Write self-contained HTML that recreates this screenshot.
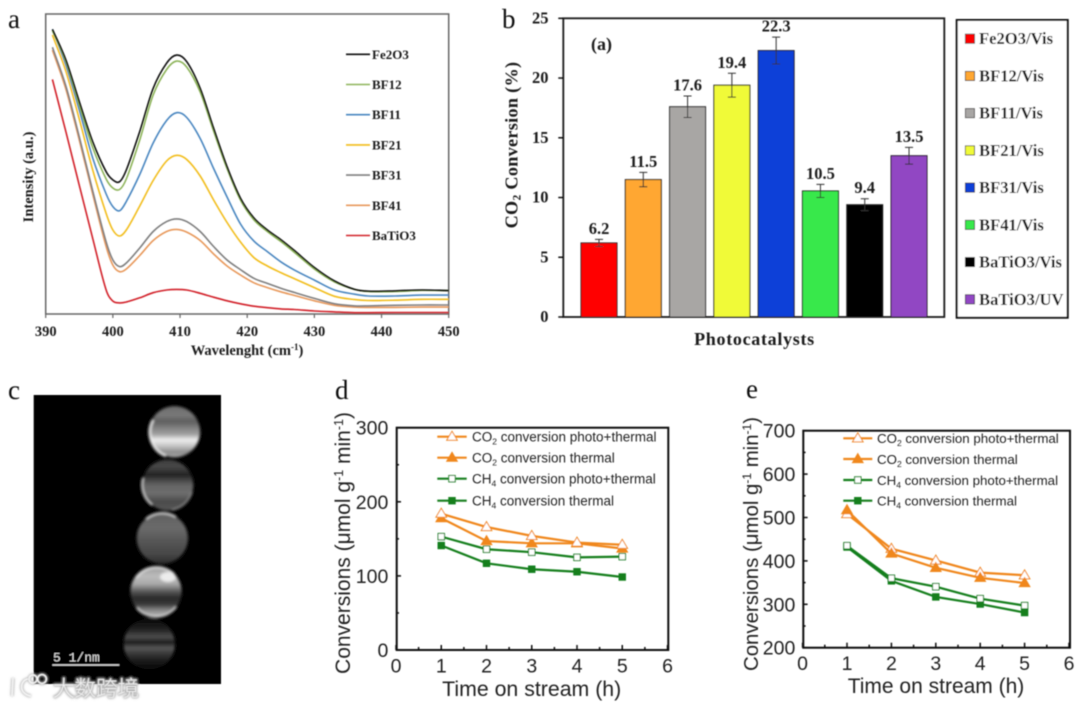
<!DOCTYPE html>
<html lang="en">
<head>
<meta charset="utf-8">
<title>Photocatalyst characterisation figure</title>
<style>
html,body{margin:0;padding:0;background:#fff;width:1080px;height:707px;overflow:hidden}
svg{display:block}
.serif{font-family:"Liberation Serif",serif}
.sans{font-family:"Liberation Sans",sans-serif;fill:#222}
.b{font-weight:bold;fill:#1c1c1c}
</style>
</head>
<body>
<svg id="fig" xmlns="http://www.w3.org/2000/svg" width="1080" height="707" viewBox="0 0 1080 707">
<defs>
<filter id="soft" x="-5%" y="-5%" width="110%" height="110%"><feGaussianBlur stdDeviation="0.5"/></filter>
<filter id="soft2" x="-20%" y="-20%" width="140%" height="140%"><feGaussianBlur stdDeviation="1.3"/></filter>
<filter id="halo" x="-20%" y="-40%" width="140%" height="180%"><feGaussianBlur stdDeviation="1"/></filter>
<linearGradient id="g1" x1="0" y1="0" x2="0" y2="1"><stop offset="0" stop-color="#6e6e6e"/><stop offset=".18" stop-color="#787878"/><stop offset=".3" stop-color="#5e5e5e"/><stop offset=".44" stop-color="#858585"/><stop offset=".55" stop-color="#a0a0a0"/><stop offset=".66" stop-color="#eeeeee"/><stop offset=".78" stop-color="#c4c4c4"/><stop offset=".9" stop-color="#8c8c8c"/><stop offset="1" stop-color="#a8a8a8"/></linearGradient>
<linearGradient id="g2" x1="0" y1="0" x2="0" y2="1"><stop offset="0" stop-color="#3c3c3c"/><stop offset=".14" stop-color="#484848"/><stop offset=".3" stop-color="#232323"/><stop offset=".5" stop-color="#646464"/><stop offset=".66" stop-color="#6e6e6e"/><stop offset=".82" stop-color="#4c4c4c"/><stop offset="1" stop-color="#555"/></linearGradient>
<linearGradient id="g3" x1="0" y1="0" x2="0" y2="1"><stop offset="0" stop-color="#606060"/><stop offset=".3" stop-color="#6a6a6a"/><stop offset=".55" stop-color="#565656"/><stop offset=".8" stop-color="#484848"/><stop offset="1" stop-color="#2c2c2c"/></linearGradient>
<linearGradient id="g4" x1="0" y1="0" x2="0" y2="1"><stop offset="0" stop-color="#9a9a9a"/><stop offset=".2" stop-color="#bcbcbc"/><stop offset=".35" stop-color="#a8a8a8"/><stop offset=".5" stop-color="#565656"/><stop offset=".62" stop-color="#2a2a2a"/><stop offset=".74" stop-color="#363636"/><stop offset=".87" stop-color="#8c8c8c"/><stop offset="1" stop-color="#bcbcbc"/></linearGradient>
<linearGradient id="g5" x1="0" y1="0" x2="0" y2="1"><stop offset="0" stop-color="#060606"/><stop offset=".22" stop-color="#222"/><stop offset=".36" stop-color="#4c4c4c"/><stop offset=".47" stop-color="#1e1e1e"/><stop offset=".58" stop-color="#585858"/><stop offset=".68" stop-color="#3a3a3a"/><stop offset=".82" stop-color="#1c1c1c"/><stop offset="1" stop-color="#060606"/></linearGradient>
</defs>

<g id="root" filter="url(#soft)">
<text class="serif" x="8" y="28" font-size="27" fill="#111">a</text>
<text class="serif" x="502" y="28" font-size="27" fill="#111">b</text>
<text class="serif" x="8" y="399" font-size="27" fill="#111">c</text>
<text class="serif" x="335" y="399" font-size="27" fill="#111">d</text>
<text class="serif" x="746" y="398" font-size="27" fill="#111">e</text>

<!-- panel a -->
<g id="panelA">
<rect x="45.7" y="14" width="403" height="300" fill="none" stroke="#666" stroke-width="1.5"/>
<text class="serif b" x="247" y="355" font-size="14.5" text-anchor="middle">Wavelenght (cm<tspan dy="-5" font-size="9">-1</tspan><tspan dy="5">)</tspan></text>
<text class="serif b" transform="translate(33,177) rotate(-90)" font-size="14.5" text-anchor="middle">Intensity (a.u.)</text>
</g>

<!-- panel b -->
<g id="panelB">
<rect x="563.3" y="18.3" width="381" height="298.7" fill="none" stroke="#1a1a1a" stroke-width="1.8"/>
<text class="serif b" x="601.5" y="50" font-size="18" text-anchor="middle">(a)</text>
<text class="serif b" x="754.5" y="345" font-size="18" letter-spacing=".7" text-anchor="middle">Photocatalysts</text>
<text class="serif b" transform="translate(517.5,145) rotate(-90)" font-size="18.2" letter-spacing=".3" text-anchor="middle">CO<tspan dy="3" font-size="11.5">2</tspan><tspan dy="-3"> Conversion (%)</tspan></text>
<rect x="956.7" y="20" width="111" height="297.7" fill="#fff" stroke="#111" stroke-width="2"/>
</g>

<!-- panel c -->
<g id="panelC">
<rect x="33.7" y="395" width="187.3" height="289" fill="#030303"/>
<g filter="url(#soft2)">
<circle cx="174.5" cy="431.7" r="25.5" fill="url(#g1)"/>
<path d="M153 420 A25.5 25.5 0 0 0 166 456" fill="none" stroke="#f4f4f4" stroke-width="2.5" opacity=".9"/>
<circle cx="167.7" cy="485" r="25.5" fill="url(#g2)"/>
<path d="M143 478 A25.5 25.5 0 0 0 152 505" fill="none" stroke="#e6e6e6" stroke-width="1.6"/>
<path d="M172 510 A25.5 25.5 0 0 0 192 492" fill="none" stroke="#a0a0a0" stroke-width="1.2"/>
<circle cx="162.3" cy="538.3" r="25.5" fill="url(#g3)"/>
<path d="M146 519 A25.5 25.5 0 0 1 176 517" fill="none" stroke="#e8e8e8" stroke-width="1.6"/>
<circle cx="156" cy="591.7" r="25.5" fill="url(#g4)"/>
<path d="M136 578 A25.5 25.5 0 0 1 174 574" fill="none" stroke="#f0f0f0" stroke-width="1.6"/>
<path d="M137 608 A25.5 25.5 0 0 0 176 607" fill="none" stroke="#dcdcdc" stroke-width="1.8"/>
<ellipse cx="168" cy="577" rx="8" ry="5" fill="#f4f4f4" opacity=".85"/>
<circle cx="149.3" cy="644" r="25.5" fill="url(#g5)"/>
</g>
<line x1="52.3" x2="119.3" y1="665" y2="665" stroke="#ddd" stroke-width="1.5"/>
<text x="53" y="661.5" font-family="'Liberation Mono',monospace" font-size="13" fill="#ddd">5 1/nm</text>
</g>

<!-- watermark -->
<g>
<g fill="none" stroke="#b5b5b5" stroke-width="3.4" filter="url(#halo)" opacity=".85">
<path d="M13 678 L12 696 M28 679 C20 680 18 694 31 696"/>
<circle cx="33" cy="679" r="4"/><circle cx="42" cy="679" r="4.4"/>
</g>
<g fill="none" stroke="#f6f6f6" stroke-width="1.4">
<path d="M13 678 L12 696 M28 679 C20 680 18 694 31 696"/>
<circle cx="33" cy="679" r="4"/><circle cx="42" cy="679" r="4.4"/>
</g>
<text x="53" y="696" font-family="'Noto Sans CJK SC',sans-serif" font-size="21.5" fill="#b0b0b0" stroke="#b0b0b0" stroke-width="1.6" filter="url(#halo)">大数跨境</text>
<text x="53" y="696" font-family="'Noto Sans CJK SC',sans-serif" font-size="21.5" font-weight="300" fill="#f0f0f0">大数跨境</text>
</g>

<!-- panel d -->
<g id="panelD">
<rect x="396.7" y="427.7" width="271.6" height="222.3" fill="none" stroke="#111" stroke-width="2"/>
<text class="sans" x="531.7" y="696" font-size="21.3" text-anchor="middle">Time on stream (h)</text>
<text class="sans" transform="translate(350,543) rotate(-90)" font-size="21" text-anchor="middle">Conversions (μmol g<tspan dy="-7" font-size="12.5">-1</tspan><tspan dy="7"> min</tspan><tspan dy="-7" font-size="12.5">-1</tspan><tspan dy="7">)</tspan></text>
<text class="sans" x="472" y="441.5" font-size="13.5">CO<tspan dy="3" font-size="8.5">2</tspan><tspan dy="-3"> conversion photo+thermal</tspan></text>
<text class="sans" x="472" y="462.5" font-size="13.5">CO<tspan dy="3" font-size="8.5">2</tspan><tspan dy="-3"> conversion thermal</tspan></text>
<text class="sans" x="472" y="483.5" font-size="13.5">CH<tspan dy="3" font-size="8.5">4</tspan><tspan dy="-3"> conversion photo+thermal</tspan></text>
<text class="sans" x="472" y="505.5" font-size="13.5">CH<tspan dy="3" font-size="8.5">4</tspan><tspan dy="-3"> conversion thermal</tspan></text>
</g>

<!-- panel e -->
<g id="panelE">
<rect x="803.3" y="430.7" width="266.7" height="217" fill="none" stroke="#111" stroke-width="2"/>
<text class="sans" x="936" y="693" font-size="21" text-anchor="middle">Time on stream (h)</text>
<text class="sans" transform="translate(758,544) rotate(-90)" font-size="20.4" text-anchor="middle">Conversions (μmol g<tspan dy="-7" font-size="12">-1</tspan><tspan dy="7"> min</tspan><tspan dy="-7" font-size="12">-1</tspan><tspan dy="7">)</tspan></text>
<text class="sans" x="877" y="443" font-size="13.3">CO<tspan dy="3" font-size="8.5">2</tspan><tspan dy="-3"> conversion photo+thermal</tspan></text>
<text class="sans" x="877" y="464" font-size="13.3">CO<tspan dy="3" font-size="8.5">2</tspan><tspan dy="-3"> conversion thermal</tspan></text>
<text class="sans" x="877" y="485" font-size="13.3">CH<tspan dy="3" font-size="8.5">4</tspan><tspan dy="-3"> conversion photo+thermal</tspan></text>
<text class="sans" x="877" y="505.5" font-size="13.3">CH<tspan dy="3" font-size="8.5">4</tspan><tspan dy="-3"> conversion thermal</tspan></text>
</g>
</g>
</svg>

<script>
// ---------- panel a data ----------
const wavelengths = [391,393,395,397,399,400,401,402,404,406,408,409.5,411,413,415,417,419,421,423,425,427,430,433,436,438,442,446,450];
const spectraTicks = [390,400,410,420,430,440,450];
const spectraNames = ['BaTiO3','BF41','BF31','BF21','BF11','BF12','Fe2O3'];
const intensityBaTiO3 = [78.2,60.8,42.9,25.2,8,4.3,3.7,4,5.4,7.1,8,8.2,8,6.9,5.6,4.4,3.4,2.6,2.1,1.7,1.5,1,.7,.45,.45,.5,.5,.5];
const intensityBF41 = [88,75,58,40,22.5,16.3,14.1,15,19.5,24.5,27.5,28.2,27.3,24.5,20,16,13,10.4,8.8,7.4,6.2,4.4,2.9,2.3,2.2,2.2,2.3,2.3];
const intensityBF31 = [88.9,76,59,41,24,18,15.8,17,22,27.5,30.8,31.7,30.8,27.5,22.5,18,14.8,11.9,10.2,8.6,7.2,5.2,3.4,2.7,2.7,2.9,3,3];
const intensityBF21 = [93,81,65,48,33.5,28,26,28,36,44.5,51,52.9,51.5,46,38,30.5,24,18.8,16,13.8,11.8,8.8,5.9,4.8,4.5,4.6,4.9,4.9];
const intensityBF11 = [94.9,83,68,52,40,35.8,34.4,37.5,46.5,57,64.5,67.1,65.5,58.5,48.5,39,30,24.3,20.8,17.4,14.7,11.3,8,6.6,6,6,6.3,6.3];
const intensityBF12 = [94.5,84,69.5,55.5,45,42,41.5,45,58,73,81.5,84.3,82.3,74,61,48.5,38,31.4,27.5,24.2,20.6,15,10.7,8.2,7.5,7.5,7.9,7.8];
const intensityFe2O3 = [94.9,84.7,70.8,57.4,47.4,44.7,44.1,48,60.8,75.2,83.6,86.3,84.1,75.2,61.9,49.1,38.6,32,28,24.8,21.2,15.5,11,8.2,7.6,7.7,8,7.8];
const spectraColors = ['#d2232a','#e8995c','#7f7f7f','#f2bd1d','#4a86c0','#8db45a','#0a0a0a'];
const spectraLegendOrder = ['Fe2O3','BF12','BF11','BF21','BF31','BF41','BaTiO3'];

// ---------- panel b data ----------
const catalysts = ['Fe2O3/Vis','BF12/Vis','BF11/Vis','BF21/Vis','BF31/Vis','BF41/Vis','BaTiO3/Vis','BaTiO3/UV'];
const conversionValues = [6.2,11.5,17.6,19.4,22.3,10.55,9.4,13.5];
const conversionLabels = ['6.2','11.5','17.6','19.4','22.3','10.5','9.4','13.5'];
const conversionErrors = [.3,.6,.9,1,1.12,.55,.5,.7];
const barColors = ['#ff0000','#ffa733','#a8a6a4','#f0fa38','#0b3fd8','#38e84c','#000000','#9146c3'];
const conversionTicks = [0,5,10,15,20,25];

// ---------- panels d / e data ----------
const timeHours = [1,2,3,4,5];
const timeTicks = [0,1,2,3,4,5,6];
const dTicks = [0,100,200,300];
const eTicks = [200,300,400,500,600,700];
const dCo2Photo = [184,166,154,145,142];
const dCo2Thermal = [178,147,144,144,137];
const dCh4Photo = [153,136,132,125,126];
const dCh4Thermal = [141,117,109,105.6,98.5];
const eCo2Photo = [508,428,401,373,367];
const eCo2Thermal = [517,417,384,361,349];
const eCh4Photo = [435,360,340.5,313,297];
const eCh4Thermal = [432,354,317,300.6,281];

// ---------- helpers ----------
const NS = 'http://www.w3.org/2000/svg';
function mk(parent, tag, attrs, text) {
  const el = document.createElementNS(NS, tag);
  for (const k in attrs) el.setAttribute(k, attrs[k]);
  if (text !== undefined) el.textContent = text;
  parent.appendChild(el);
  return el;
}
function scale(d0, d1, r0, r1) {
  return v => r0 + (v - d0) * (r1 - r0) / (d1 - d0);
}
function smoothPath(pts) {
  let d = 'M' + pts[0][0] + ' ' + pts[0][1];
  for (let i = 0; i < pts.length - 1; i++) {
    const p0 = pts[Math.max(i - 1, 0)], p1 = pts[i], p2 = pts[i + 1], p3 = pts[Math.min(i + 2, pts.length - 1)];
    const h = p2[0] - p1[0];
    const m1 = (p2[1] - p0[1]) / ((p2[0] - p0[0]) || 1);
    const m2 = (p3[1] - p1[1]) / ((p3[0] - p1[0]) || 1);
    d += ' C' + (p1[0] + h / 3) + ' ' + (p1[1] + m1 * h / 3) + ' ' + (p2[0] - h / 3) + ' ' + (p2[1] - m2 * h / 3) + ' ' + p2[0] + ' ' + p2[1];
  }
  return d;
}

// ---------- panel a ----------
(function () {
  const g = document.getElementById('panelA');
  const x = scale(390, 450, 45.7, 448.7);
  const y = scale(0, 100, 314, 14);
  spectraTicks.forEach(t => {
    const tick = mk(g, 'line', {x1: x(t), x2: x(t), y1: 314, y2: 318, stroke: '#666', 'stroke-width': 1.2});
    
    
    const lab = mk(g, 'text', {x: x(t), y: 336, 'font-size': 14.5, 'text-anchor': 'middle', class: 'serif b'}, String(t));
    
    
  });
  const all = [intensityBaTiO3, intensityBF41, intensityBF31, intensityBF21, intensityBF11, intensityBF12, intensityFe2O3];
  all.forEach((vals, s) => {
    const pts = vals.map((v, i) => [x(wavelengths[i]), y(v)]);
    const p = mk(g, 'path', {d: smoothPath(pts), fill: 'none', stroke: spectraColors[s], 'stroke-width': 1.6});
    
    
  });
  spectraLegendOrder.forEach((name, i) => {
    const s = spectraNames.indexOf(name);
    const ly = 54.3 + i * 30.2;
    const l = mk(g, 'line', {x1: 346, x2: 370, y1: ly, y2: ly, stroke: spectraColors[s], 'stroke-width': 1.6});
    
    
    const t = mk(g, 'text', {x: 372, y: ly + 4.5, 'font-size': 13, class: 'serif b'}, name);
    
    
  });
})();

// ---------- panel b ----------
(function () {
  const g = document.getElementById('panelB');
  const y = scale(0, 25, 317, 18.3);
  const band = i => 599 + i * 44.29;
  conversionTicks.forEach(t => {
    const tick = mk(g, 'line', {x1: 558.3, x2: 563.3, y1: y(t), y2: y(t), stroke: '#111', 'stroke-width': 1.5});
    
    
    const lab = mk(g, 'text', {x: 548.5, y: y(t) + 5, 'font-size': 16.5, 'text-anchor': 'end', class: 'serif b'}, String(t));
    
    
  });
  conversionValues.forEach((v, i) => {
    const cx = band(i);
    const bar = mk(g, 'rect', {x: cx - 18, y: y(v), width: 36, height: y(0) - y(v), fill: barColors[i], stroke: '#222', 'stroke-width': 1});
    
    
    const e = conversionErrors[i];
    const err = mk(g, 'path', {d: 'M' + cx + ' ' + y(v + e) + 'V' + y(v - e) + 'M' + (cx - 4) + ' ' + y(v + e) + 'h8M' + (cx - 4) + ' ' + y(v - e) + 'h8', fill: 'none', stroke: '#333', 'stroke-width': 1});
    
    
    const lab = mk(g, 'text', {x: cx, y: y(v + e) - 5.5, 'font-size': 16.5, 'text-anchor': 'middle', class: 'serif b'}, conversionLabels[i]);
    
    
    const ly = 38.7 + i * 37.23;
    const sw = mk(g, 'rect', {x: 965.3, y: ly - 4.6, width: 9.2, height: 9.2, fill: barColors[i], stroke: '#222', 'stroke-width': .7});
    
    
    const lt = mk(g, 'text', {x: 979, y: ly + 5.5, 'font-size': 16.6, class: 'serif b'}, catalysts[i]);
    
    
  });
})();

// ---------- panels d / e ----------
const ORANGE = '#f0871e', GREEN = '#127f1f';
function marker(g, kind, cx, cy, color) {
  const fill = kind.endsWith('open') ? '#fff' : color;
  let m;
  if (kind.startsWith('tri')) {
    m = mk(g, 'path', {d: 'M' + cx + ' ' + (cy - 5.4) + 'l5.3 9h-10.6z', fill: fill, stroke: color, 'stroke-width': 1});
  } else {
    m = mk(g, 'rect', {x: cx - 3.2, y: cy - 3.2, width: 6.4, height: 6.4, fill: fill, stroke: color, 'stroke-width': 1});
  }
  
  
}
function lineChart(id, box, yDom, yTicks, series, legend) {
  const g = document.getElementById(id);
  const x = scale(0, 6, box.x0, box.x1);
  const y = scale(yDom[0], yDom[1], box.y0, box.y1);
  const minorY = (yTicks[1] - yTicks[0]) / 2;
  timeTicks.forEach((t, i) => {
    const tick = mk(g, 'line', {x1: x(t), x2: x(t), y1: box.y0, y2: box.y0 - 5, stroke: '#111', 'stroke-width': 1.5});
    
    
    if (i < timeTicks.length - 1) {
      const mn = mk(g, 'line', {x1: x(t + .5), x2: x(t + .5), y1: box.y0, y2: box.y0 - 3, stroke: '#111', 'stroke-width': 1.5});
      
      
    }
    const lab = mk(g, 'text', {x: x(t), y: box.y0 + 22.5, 'font-size': 19.5, 'text-anchor': 'middle', class: 'sans'}, String(t));
    
    
  });
  yTicks.forEach((t, i) => {
    const tick = mk(g, 'line', {x1: box.x0, x2: box.x0 + 5, y1: y(t), y2: y(t), stroke: '#111', 'stroke-width': 1.5});
    
    
    if (i < yTicks.length - 1) {
      const mn = mk(g, 'line', {x1: box.x0, x2: box.x0 + 3, y1: y(t + minorY), y2: y(t + minorY), stroke: '#111', 'stroke-width': 1.5});
      
      
    }
    const lab = mk(g, 'text', {x: box.labelX, y: y(t) + 7, 'font-size': 19.5, 'text-anchor': 'end', class: 'sans'}, String(t));
    
    
  });
  series.forEach(s => {
    const pts = s.values.map((v, i) => x(timeHours[i]) + ',' + y(v)).join(' ');
    const pl = mk(g, 'polyline', {points: pts, fill: 'none', stroke: s.color, 'stroke-width': 2.2});
    
    
    s.values.forEach((v, i) => marker(g, s.kind, x(timeHours[i]), y(v), s.color));
  });
  legend.ys.forEach((ly, i) => {
    const s = legend.order[i];
    const l = mk(g, 'line', {x1: legend.x0, x2: legend.x1, y1: ly, y2: ly, stroke: s.color, 'stroke-width': 2.2});
    
    
    marker(g, s.kind, (legend.x0 + legend.x1) / 2, ly, s.color);
  });
}
const dSeries = [
  {values: dCo2Thermal, color: ORANGE, kind: 'tri-filled'},
  {values: dCo2Photo, color: ORANGE, kind: 'tri-open'},
  {values: dCh4Thermal, color: GREEN, kind: 'sq-filled'},
  {values: dCh4Photo, color: GREEN, kind: 'sq-open'}
];
const eSeries = [
  {values: eCo2Photo, color: ORANGE, kind: 'tri-open'},
  {values: eCo2Thermal, color: ORANGE, kind: 'tri-filled'},
  {values: eCh4Thermal, color: GREEN, kind: 'sq-filled'},
  {values: eCh4Photo, color: GREEN, kind: 'sq-open'}
];
lineChart('panelD', {x0: 396, x1: 667.5, y0: 650, y1: 427.7, labelX: 388.3}, [0, 300], dTicks, dSeries,
  {x0: 437.3, x1: 466.7, ys: [436.7, 457.7, 478.7, 500.7], order: [dSeries[1], dSeries[0], dSeries[3], dSeries[2]]});
lineChart('panelE', {x0: 802.6, x1: 1069, y0: 647.7, y1: 430.7, labelX: 795.3}, [200, 700], eTicks, eSeries,
  {x0: 843.3, x1: 872.3, ys: [438.3, 459, 480, 500.7], order: [eSeries[0], eSeries[1], eSeries[3], eSeries[2]]});
</script>
</body>
</html>
